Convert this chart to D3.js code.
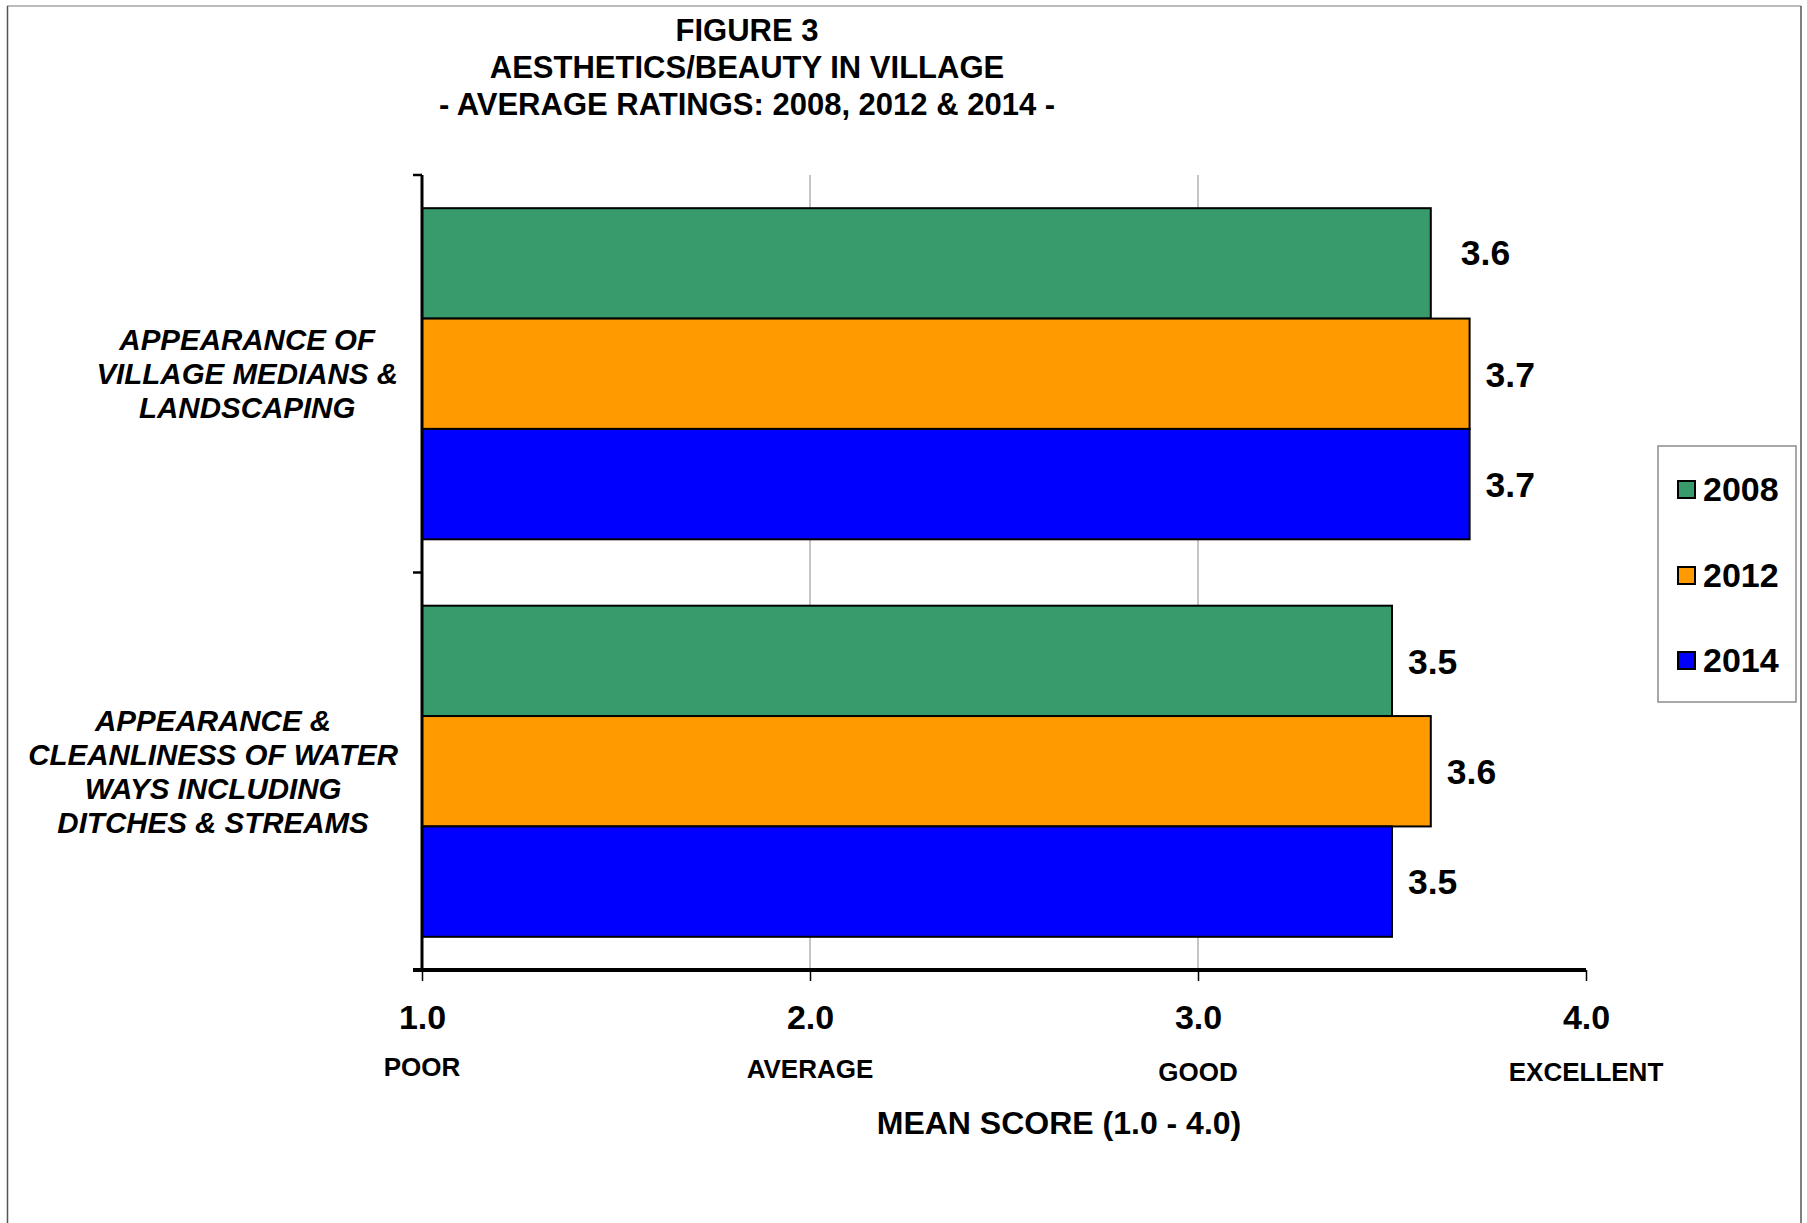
<!DOCTYPE html>
<html>
<head>
<meta charset="utf-8">
<script src="https://d3js.org/d3.v7.min.js"></script>
<style>
  body { margin: 0; background: #fff; }
  .narrow { font-family: "Liberation Sans Narrow", "Arial Narrow", "Liberation Sans", Arial, sans-serif; font-weight: bold; }
  .arial { font-family: "Liberation Sans", Arial, sans-serif; font-weight: bold; }
</style>
</head>
<body>
<div id="chart"></div>
<script>
// Data
const categories = [
    ['APPEARANCE OF', 'VILLAGE MEDIANS &', 'LANDSCAPING'],
    ['APPEARANCE &', 'CLEANLINESS OF WATER', 'WAYS INCLUDING', 'DITCHES & STREAMS']
];
const years = ['2008', '2012', '2014'];
const values2008 = [3.6, 3.5];
const values2012 = [3.7, 3.6];
const values2014 = [3.7, 3.5];
const xTicks = [1, 2, 3, 4];
const xTickNames = ['POOR', 'AVERAGE', 'GOOD', 'EXCELLENT'];
const colors = ['#379b6b', '#ff9a00', '#0000ff'];

const width = 1807;
const height = 1223;
const margin = { top: 175, left: 422, right: 221, bottom: 253 };
const innerWidth = width - margin.left - margin.right;
const innerHeight = height - margin.top - margin.bottom;

const series = [values2008, values2012, values2014];

const svg = d3.select('#chart').append('svg')
    .attr('width', width)
    .attr('height', height);

// outer frame
svg.append('line')
    .attr('x1', 7).attr('x2', 1801).attr('y1', 6).attr('y2', 6)
    .attr('stroke', '#a6a6a6').attr('stroke-width', 1.5);
svg.append('g').selectAll('line')
    .data([7.5, 1801]).enter().append('line')
        .attr('x1', d => d).attr('x2', d => d)
        .attr('y1', 6).attr('y2', height)
        .attr('stroke', '#555').attr('stroke-width', 1.5);

// title
const titleLines = ['FIGURE 3', 'AESTHETICS/BEAUTY IN VILLAGE', '- AVERAGE RATINGS: 2008, 2012 & 2014 -'];
svg.append('text')
    .attr('class', 'narrow')
    .attr('text-anchor', 'middle')
    .attr('font-size', 31)
    .selectAll('tspan').data(titleLines).enter().append('tspan')
        .attr('x', 747)
        .attr('y', (d, i) => 41 + i * 37)
        .text(d => d);

const chartGroup = svg.append('g')
    .attr('transform', `translate(${margin.left}, ${margin.top})`);

const xScale = d3.scaleLinear().domain([1, 4]).range([0, innerWidth]);
const yScale = d3.scaleBand()
    .domain(d3.range(categories.length))
    .range([0, innerHeight])
    .paddingInner(0.167)
    .paddingOuter(0.0835);
const subScale = d3.scaleBand()
    .domain(d3.range(years.length))
    .range([0, yScale.bandwidth()]);

// gridlines
chartGroup.append('g').selectAll('line')
    .data([2, 3]).enter().append('line')
        .attr('x1', d => xScale(d)).attr('x2', d => xScale(d))
        .attr('y1', 0).attr('y2', innerHeight)
        .attr('stroke', '#8c8c8c')
        .attr('stroke-width', 1);

// bars
categories.forEach((c, ci) => {
    const g = chartGroup.append('g')
        .attr('transform', `translate(0, ${yScale(ci)})`);
    series.forEach((vals, si) => {
        const moved = ci === 0 && si === 0; // this label sits a bit off in the original
        g.append('rect')
            .attr('x', 0)
            .attr('y', subScale(si))
            .attr('width', xScale(vals[ci]) - xScale(1))
            .attr('height', subScale.bandwidth())
            .attr('fill', colors[si])
            .attr('stroke', '#000')
            .attr('stroke-width', 2);
        g.append('text')
            .attr('class', 'arial')
            .attr('font-size', 35.5)
            .attr('x', xScale(vals[ci]) + (moved ? 30 : 16))
            .attr('y', subScale(si) + subScale.bandwidth() / 2 - (moved ? 11 : 0))
            .attr('dy', '0.36em')
            .text(vals[ci].toFixed(1));
    });
});

// y axis
chartGroup.append('line')
    .attr('x1', 0).attr('x2', 0)
    .attr('y1', 0).attr('y2', innerHeight)
    .attr('stroke', '#000').attr('stroke-width', 3);
chartGroup.append('g').selectAll('line')
    .data([0, yScale.step(), innerHeight]).enter().append('line')
        .attr('x1', -9).attr('x2', 0)
        .attr('y1', d => d).attr('y2', d => d)
        .attr('stroke', '#000').attr('stroke-width', 2.5);

// x axis
const xAxis = d3.axisBottom(xScale)
    .tickValues(xTicks)
    .tickSize(11)
    .tickFormat(d3.format('.1f'));
const xAxisGroup = chartGroup.append('g')
    .attr('transform', `translate(0, ${innerHeight})`)
    .call(xAxis);
xAxisGroup.select('.domain')
    .attr('d', `M-9,0H${innerWidth}`)
    .attr('stroke', '#000').attr('stroke-width', 4);
xAxisGroup.selectAll('.tick line').attr('stroke', '#000').attr('stroke-width', 1.5);
xAxisGroup.selectAll('.tick text')
    .attr('class', 'narrow')
    .attr('font-size', 34)
    .attr('fill', '#000')
    .attr('y', 59)
    .attr('dy', 0);

chartGroup.append('g').selectAll('text')
    .data(xTickNames).enter().append('text')
        .attr('class', 'narrow')
        .attr('font-size', 26)
        .attr('text-anchor', 'middle')
        .attr('x', (d, i) => xScale(xTicks[i]))
        .attr('y', (d, i) => innerHeight + [106, 108, 111, 111][i])
        .text(d => d);

chartGroup.append('text')
    .attr('class', 'narrow')
    .attr('font-size', 32)
    .attr('text-anchor', 'middle')
    .attr('x', 637)
    .attr('y', innerHeight + 164)
    .text('MEAN SCORE (1.0 - 4.0)');

// category labels
const blockRight = 398;
categories.forEach((lines, ci) => {
    const cy = margin.top + yScale(ci) + yScale.bandwidth() / 2;
    const lineH = 34;
    const t = svg.append('text')
        .attr('class', 'arial')
        .attr('font-style', 'italic')
        .attr('font-size', 29.5)
        .attr('text-anchor', 'middle');
    const spans = t.selectAll('tspan').data(lines).enter().append('tspan')
        .attr('y', (d, i) => cy + (i - (lines.length - 1) / 2) * lineH)
        .attr('dy', '0.36em')
        .text(d => d);
    let maxW = 0;
    spans.each(function() { maxW = Math.max(maxW, this.getComputedTextLength()); });
    spans.attr('x', blockRight - maxW / 2);
});

// legend
const legend = svg.append('g');
legend.append('rect')
    .attr('x', 1658).attr('y', 446)
    .attr('width', 138).attr('height', 256)
    .attr('fill', '#fff')
    .attr('stroke', '#8c8c8c').attr('stroke-width', 1.5);
const legendY = [489, 575, 660];
years.forEach((yr, i) => {
    legend.append('rect')
        .attr('x', 1678).attr('y', legendY[i] - 8)
        .attr('width', 17).attr('height', 17)
        .attr('fill', colors[i])
        .attr('stroke', '#000').attr('stroke-width', 2);
    legend.append('text')
        .attr('class', 'arial')
        .attr('font-size', 34)
        .attr('x', 1703)
        .attr('y', legendY[i])
        .attr('dy', '0.36em')
        .text(yr);
});
</script>
</body>
</html>
